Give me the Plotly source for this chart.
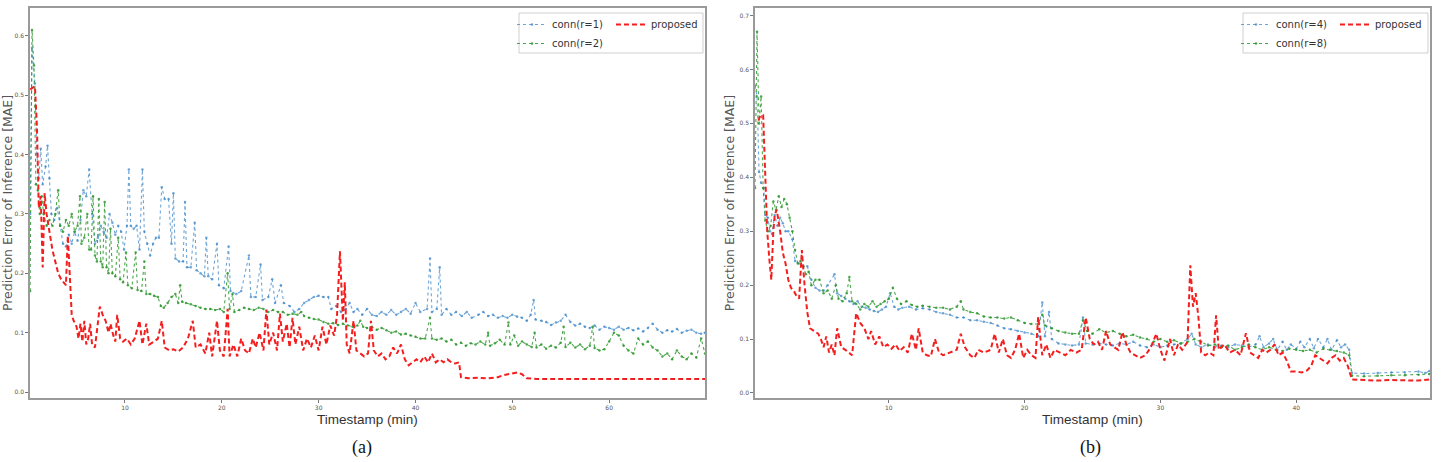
import plotly.graph_objects as go

# ---------------- data: panel (a) ----------------
a_conn1_x = [0.2,0.4,0.7,0.9,1.1,1.3,1.5,1.8,2.0,2.2,2.4,2.7,3.0,3.3,3.6,3.9,4.2,4.5,4.8,5.1,5.4,5.7,6.0,6.3,6.6,6.9,7.2,7.5,7.8,8.1,8.4,8.7,9.0,9.3,9.6,9.9,10.2,10.4,10.6,10.9,11.2,11.5,11.8,12.0,12.3,12.6,12.9,13.2,13.5,13.8,14.1,14.5,14.8,15.0,15.2,15.6,16.0,16.2,16.4,16.8,17.2,17.4,17.8,18.2,18.4,18.6,19.0,19.5,19.7,20.2,20.7,20.9,21.5,22.0,22.8,23.0,23.5,24.0,24.2,24.8,25.2,25.5,26.1,26.4,27.0,27.5,28.0,28.5,29.0,29.5,30.0,30.5,31.0,31.3,31.8,32.3,32.8,33.2,33.6,34.0,34.5,35.0,35.5,36.0,36.5,37.0,37.5,38.0,38.5,39.0,39.5,40.0,40.5,41.2,41.5,41.7,42.2,42.5,42.7,43.2,43.7,44.2,44.8,45.3,45.8,46.5,47.0,47.5,48.0,48.5,49.0,49.5,50.0,50.5,51.0,51.5,51.9,52.2,52.4,53.0,53.5,54.0,54.5,55.0,55.5,56.0,56.5,57.0,57.5,58.0,58.5,59.0,59.5,60.0,60.5,61.0,61.5,62.0,62.5,63.0,63.5,64.0,64.5,65.0,65.5,66.0,66.5,67.0,67.5,68.0,68.5,69.0,69.5,69.9]
a_conn1_y = [0.30,0.58,0.52,0.40,0.36,0.41,0.35,0.38,0.415,0.36,0.30,0.29,0.31,0.28,0.25,0.245,0.265,0.25,0.27,0.255,0.29,0.34,0.33,0.375,0.30,0.25,0.26,0.28,0.27,0.26,0.30,0.285,0.265,0.28,0.27,0.24,0.28,0.375,0.28,0.275,0.28,0.24,0.375,0.27,0.25,0.23,0.25,0.26,0.26,0.345,0.325,0.325,0.25,0.335,0.225,0.22,0.22,0.32,0.21,0.21,0.285,0.205,0.20,0.195,0.26,0.195,0.19,0.25,0.18,0.175,0.245,0.17,0.165,0.17,0.23,0.16,0.16,0.215,0.155,0.16,0.19,0.15,0.18,0.15,0.145,0.135,0.14,0.15,0.155,0.16,0.162,0.16,0.16,0.14,0.145,0.135,0.14,0.15,0.135,0.14,0.13,0.14,0.13,0.128,0.135,0.13,0.138,0.13,0.135,0.14,0.132,0.15,0.135,0.14,0.225,0.135,0.14,0.21,0.13,0.14,0.13,0.135,0.128,0.135,0.125,0.13,0.135,0.128,0.13,0.125,0.128,0.125,0.13,0.127,0.125,0.12,0.13,0.155,0.122,0.12,0.118,0.113,0.117,0.12,0.13,0.118,0.112,0.115,0.11,0.108,0.112,0.105,0.11,0.108,0.105,0.11,0.105,0.108,0.104,0.107,0.102,0.108,0.115,0.105,0.10,0.104,0.102,0.106,0.10,0.103,0.105,0.10,0.098,0.10]

a_conn2_x = [0.2,0.4,0.6,0.8,1.0,1.2,1.4,1.6,1.9,2.2,2.5,2.8,3.1,3.3,3.6,3.9,4.2,4.5,4.8,5.1,5.35,5.5,5.8,6.1,6.3,6.5,6.7,6.9,7.1,7.3,7.5,7.7,7.9,8.1,8.3,8.5,8.7,9.0,9.3,9.5,9.8,10.1,10.3,10.7,11.1,11.3,11.7,12.0,12.2,12.6,13.0,13.4,13.7,14.0,14.4,14.8,15.2,15.5,15.7,15.9,16.3,16.8,17.3,17.8,18.3,18.8,19.3,19.8,20.2,20.6,20.8,21.1,21.3,21.8,22.3,22.8,23.3,23.8,24.3,24.8,25.3,25.8,26.3,26.8,27.3,27.8,28.2,28.5,29.0,29.5,30.0,30.5,31.0,31.5,32.0,32.5,33.0,33.5,34.0,34.3,34.6,35.0,35.5,36.0,36.5,37.0,37.5,38.0,38.5,39.0,39.5,40.0,40.5,41.0,41.5,41.7,42.2,42.7,43.2,43.7,44.2,44.7,45.2,45.7,46.2,46.7,47.2,47.5,47.7,48.2,48.7,49.2,49.6,49.8,50.2,50.6,51.0,51.5,52.0,52.3,52.5,53.0,53.5,54.0,54.5,55.0,55.3,55.5,56.0,56.5,57.0,57.5,58.0,58.3,58.5,59.0,59.5,60.0,60.5,61.0,61.5,62.0,62.5,63.0,63.5,64.0,64.5,65.0,65.5,66.0,66.5,67.0,67.5,68.0,68.5,69.0,69.5,69.9]
a_conn2_y = [0.17,0.61,0.55,0.35,0.34,0.30,0.33,0.30,0.28,0.29,0.28,0.30,0.34,0.28,0.27,0.29,0.28,0.30,0.27,0.28,0.33,0.25,0.26,0.30,0.24,0.24,0.33,0.23,0.22,0.325,0.22,0.21,0.32,0.21,0.20,0.275,0.20,0.195,0.26,0.19,0.185,0.235,0.18,0.175,0.235,0.172,0.17,0.22,0.165,0.165,0.162,0.16,0.145,0.142,0.15,0.16,0.165,0.15,0.18,0.152,0.15,0.148,0.145,0.142,0.14,0.14,0.138,0.14,0.135,0.20,0.14,0.165,0.135,0.138,0.142,0.14,0.138,0.142,0.14,0.135,0.138,0.135,0.135,0.13,0.132,0.13,0.135,0.128,0.125,0.123,0.122,0.118,0.115,0.116,0.113,0.115,0.112,0.11,0.112,0.12,0.11,0.108,0.11,0.105,0.108,0.104,0.10,0.102,0.097,0.098,0.095,0.093,0.09,0.09,0.125,0.09,0.088,0.09,0.085,0.088,0.08,0.083,0.078,0.082,0.08,0.085,0.08,0.10,0.078,0.082,0.088,0.08,0.117,0.08,0.095,0.078,0.085,0.08,0.076,0.10,0.075,0.08,0.073,0.078,0.075,0.083,0.11,0.076,0.083,0.075,0.08,0.072,0.078,0.11,0.074,0.07,0.072,0.085,0.10,0.095,0.078,0.07,0.065,0.09,0.08,0.085,0.075,0.07,0.06,0.065,0.055,0.07,0.06,0.055,0.065,0.058,0.09,0.065]

a_prop_x = [0.2,0.7,0.9,1.1,1.3,1.5,1.7,1.9,2.2,2.5,2.8,3.1,3.4,3.7,3.9,4.1,4.3,4.5,4.7,5.0,5.2,5.4,5.6,5.8,6.0,6.2,6.4,6.6,6.9,7.1,7.4,7.7,8.0,8.3,8.5,8.8,9.0,9.2,9.5,9.8,10.2,10.6,11.0,11.5,11.8,12.2,12.5,13.0,13.4,13.8,14.1,14.6,15.0,15.5,16.0,16.5,17.0,17.3,17.8,18.3,18.7,19.0,19.5,19.8,20.2,20.6,20.8,21.2,21.6,22.0,22.4,22.8,23.2,23.5,23.9,24.3,24.6,24.9,25.3,25.7,26.0,26.3,26.7,27.0,27.3,27.6,28.0,28.4,28.8,29.2,29.6,30.0,30.4,30.8,31.2,31.6,31.9,32.2,32.5,32.7,32.9,33.2,33.6,33.9,34.3,34.7,35.1,35.4,35.7,36.1,36.5,36.9,37.3,37.7,38.1,38.5,38.9,39.3,39.7,40.1,40.5,40.9,41.3,41.7,42.1,42.5,42.9,43.3,43.7,44.1,44.5,44.7,45.5,46.5,47.5,48.5,49.0,49.5,50.0,50.5,51.0,51.5,52.5,54.0,56.0,58.0,60.0,62.0,64.0,66.0,68.0,69.9]
a_prop_y = [0.51,0.515,0.45,0.31,0.33,0.21,0.335,0.30,0.27,0.24,0.22,0.20,0.19,0.185,0.18,0.263,0.20,0.13,0.12,0.11,0.09,0.115,0.085,0.12,0.08,0.09,0.115,0.08,0.075,0.10,0.144,0.13,0.12,0.10,0.115,0.095,0.085,0.13,0.09,0.085,0.09,0.08,0.09,0.12,0.08,0.115,0.08,0.085,0.09,0.12,0.075,0.07,0.072,0.068,0.075,0.09,0.12,0.075,0.08,0.065,0.10,0.06,0.12,0.07,0.06,0.14,0.06,0.08,0.06,0.09,0.07,0.065,0.09,0.075,0.10,0.07,0.139,0.08,0.10,0.07,0.132,0.085,0.115,0.075,0.125,0.08,0.11,0.07,0.09,0.075,0.095,0.07,0.11,0.08,0.112,0.095,0.13,0.237,0.12,0.185,0.08,0.065,0.12,0.07,0.065,0.06,0.065,0.12,0.07,0.06,0.065,0.055,0.06,0.075,0.065,0.08,0.055,0.045,0.05,0.055,0.05,0.06,0.05,0.065,0.05,0.055,0.05,0.055,0.05,0.048,0.05,0.025,0.023,0.024,0.023,0.025,0.028,0.03,0.031,0.033,0.03,0.023,0.022,0.022,0.022,0.023,0.022,0.022,0.022,0.022,0.022,0.022]

# ---------------- data: panel (b) ----------------
b_conn4_x = [0.15,0.3,0.45,0.6,0.8,0.9,1.1,1.25,1.4,1.6,1.8,2.0,2.2,2.4,2.6,2.9,3.1,3.4,3.7,4.0,4.3,4.6,4.9,5.2,5.5,6.0,6.2,6.5,6.8,7.1,7.4,7.7,8.0,8.3,8.6,8.9,9.2,9.5,9.8,10.1,10.4,10.7,11.0,11.5,12.0,12.5,13.0,13.5,14.0,14.5,15.0,15.5,16.0,16.5,17.0,17.5,18.0,18.5,19.0,19.5,20.0,20.5,21.0,21.3,21.5,21.8,22.0,22.5,23.0,23.5,24.0,24.3,24.5,25.0,25.5,26.0,26.5,27.0,27.5,28.0,28.5,29.0,29.5,30.0,30.5,31.0,31.5,32.0,32.3,32.6,33.0,33.5,34.0,34.5,35.0,35.5,36.0,36.5,37.0,37.3,37.6,38.0,38.3,38.6,39.0,39.3,39.6,40.0,40.3,40.6,41.0,41.3,41.6,42.0,42.3,42.6,43.0,43.3,43.6,43.9,44.1,45.0,46.0,47.0,48.0,49.0,49.5,49.8]
b_conn4_y = [0.57,0.55,0.41,0.39,0.38,0.33,0.325,0.30,0.295,0.33,0.31,0.325,0.315,0.30,0.30,0.285,0.245,0.24,0.235,0.235,0.21,0.195,0.19,0.19,0.20,0.22,0.185,0.18,0.175,0.17,0.165,0.17,0.16,0.158,0.155,0.152,0.15,0.155,0.16,0.185,0.16,0.155,0.158,0.16,0.155,0.157,0.155,0.15,0.148,0.145,0.14,0.14,0.135,0.135,0.132,0.13,0.125,0.12,0.118,0.115,0.112,0.11,0.105,0.168,0.105,0.15,0.10,0.092,0.09,0.088,0.09,0.14,0.092,0.09,0.092,0.09,0.088,0.092,0.09,0.095,0.088,0.085,0.09,0.085,0.088,0.09,0.092,0.10,0.11,0.09,0.085,0.09,0.085,0.088,0.085,0.09,0.088,0.085,0.09,0.105,0.085,0.092,0.10,0.08,0.095,0.08,0.09,0.082,0.095,0.085,0.10,0.083,0.10,0.085,0.10,0.08,0.098,0.085,0.09,0.08,0.037,0.036,0.037,0.038,0.038,0.04,0.037,0.041]

b_conn8_x = [0.15,0.3,0.45,0.6,0.75,0.9,1.1,1.3,1.5,1.7,1.9,2.1,2.3,2.5,2.7,2.9,3.1,3.3,3.5,3.7,3.9,4.1,4.3,4.6,4.9,5.2,5.5,5.8,6.1,6.3,6.6,6.9,7.1,7.3,7.6,7.9,8.2,8.5,8.8,9.1,9.4,9.7,10.0,10.3,10.6,10.9,11.3,11.7,12.1,12.5,13.0,13.5,14.0,14.5,15.0,15.3,15.5,16.0,16.5,17.0,17.5,18.0,18.5,19.0,19.5,20.0,20.5,21.0,21.3,21.5,22.0,22.5,23.0,23.5,24.0,24.3,24.6,25.0,25.5,26.0,26.5,27.0,27.5,28.0,28.5,29.0,29.5,30.0,30.5,31.0,31.5,32.0,32.5,33.0,33.5,34.0,34.5,35.0,35.5,36.0,36.5,37.0,37.5,38.0,38.5,39.0,39.5,40.0,40.5,41.0,41.5,42.0,42.5,43.0,43.5,43.9,44.1,45.0,46.0,47.0,48.0,49.0,49.8]
b_conn8_y = [0.38,0.67,0.50,0.55,0.38,0.32,0.30,0.31,0.355,0.34,0.365,0.345,0.36,0.35,0.325,0.30,0.265,0.24,0.245,0.235,0.22,0.225,0.20,0.21,0.21,0.185,0.19,0.175,0.20,0.175,0.17,0.185,0.215,0.17,0.165,0.155,0.165,0.16,0.17,0.16,0.165,0.17,0.175,0.195,0.175,0.165,0.17,0.163,0.16,0.162,0.16,0.158,0.158,0.155,0.16,0.17,0.155,0.15,0.148,0.142,0.14,0.14,0.138,0.14,0.135,0.13,0.128,0.128,0.145,0.125,0.12,0.115,0.112,0.11,0.11,0.135,0.115,0.11,0.118,0.112,0.115,0.11,0.105,0.108,0.103,0.10,0.095,0.10,0.095,0.098,0.092,0.095,0.10,0.095,0.088,0.09,0.085,0.088,0.08,0.085,0.09,0.085,0.08,0.085,0.08,0.078,0.082,0.08,0.078,0.08,0.075,0.082,0.08,0.078,0.075,0.07,0.032,0.031,0.032,0.033,0.033,0.034,0.035]

b_prop_x = [0.4,0.55,0.75,0.9,1.05,1.2,1.35,1.5,1.6,1.75,1.9,2.0,2.2,2.4,2.6,2.8,3.0,3.2,3.4,3.6,3.8,4.0,4.2,4.5,4.8,5.0,5.2,5.4,5.6,5.8,6.0,6.2,6.5,6.8,7.1,7.3,7.6,7.9,8.2,8.5,8.7,9.0,9.3,9.6,9.9,10.2,10.5,10.8,11.1,11.4,11.7,12.0,12.2,12.5,12.8,13.1,13.4,13.7,14.0,14.5,15.0,15.3,15.6,16.0,16.3,16.6,17.0,17.5,17.8,18.1,18.4,18.7,19.0,19.3,19.6,19.9,20.2,20.5,20.8,21.0,21.3,21.6,21.9,22.2,22.6,23.0,23.4,23.8,24.2,24.5,24.8,25.1,25.4,25.7,26.0,26.3,26.6,26.9,27.2,27.5,27.8,28.1,28.5,28.9,29.3,29.7,30.0,30.3,30.7,31.0,31.3,31.6,32.0,32.2,32.4,32.6,32.8,33.0,33.3,33.6,33.9,34.1,34.3,34.7,35.1,35.5,35.9,36.3,36.6,36.9,37.2,37.5,37.8,38.1,38.4,38.7,39.0,39.3,39.6,40.0,40.4,40.8,41.1,41.4,41.7,42.0,42.3,42.6,42.9,43.2,43.5,43.8,44.1,45.0,46.0,47.0,48.0,49.0,49.8]
b_prop_y = [0.505,0.515,0.515,0.42,0.30,0.25,0.21,0.30,0.33,0.34,0.32,0.30,0.26,0.24,0.21,0.195,0.19,0.18,0.175,0.265,0.20,0.15,0.12,0.115,0.11,0.10,0.085,0.105,0.075,0.09,0.07,0.12,0.085,0.08,0.075,0.07,0.148,0.13,0.12,0.10,0.115,0.09,0.105,0.085,0.09,0.082,0.09,0.078,0.085,0.075,0.11,0.08,0.12,0.075,0.07,0.068,0.10,0.075,0.07,0.075,0.08,0.11,0.085,0.07,0.065,0.08,0.075,0.08,0.11,0.075,0.10,0.07,0.065,0.08,0.11,0.065,0.08,0.07,0.065,0.141,0.07,0.09,0.065,0.08,0.075,0.07,0.08,0.075,0.08,0.14,0.10,0.09,0.095,0.08,0.115,0.09,0.085,0.08,0.113,0.09,0.075,0.07,0.065,0.07,0.085,0.11,0.08,0.06,0.10,0.07,0.09,0.08,0.095,0.237,0.16,0.185,0.14,0.075,0.07,0.075,0.07,0.144,0.08,0.09,0.075,0.08,0.07,0.111,0.075,0.07,0.065,0.08,0.075,0.08,0.09,0.07,0.075,0.06,0.04,0.04,0.038,0.042,0.05,0.07,0.065,0.06,0.055,0.065,0.07,0.06,0.065,0.05,0.025,0.024,0.023,0.024,0.024,0.023,0.025]

x_ticks_a = [10, 20, 30, 40, 50, 60]
x_ticks_b = [10, 20, 30, 40]
y_ticks_a = [0.0, 0.1, 0.2, 0.3, 0.4, 0.5, 0.6]
y_ticks_b = [0.0, 0.1, 0.2, 0.3, 0.4, 0.5, 0.6, 0.7]

# ---------------- styles ----------------
BLUE = "rgba(60,135,200,0.75)"
GREEN = "rgba(45,150,45,0.85)"
RED = "rgb(245,30,30)"
W, H = 1443, 462
def px(v): return v / W
def py(v): return 1 - v / H

fig = go.Figure()

def conn(x, y, name, color, xa, ya, leg):
    return go.Scatter(x=x, y=y, name=name, mode="lines+markers", xaxis=xa, yaxis=ya,
                      legend=leg, line=dict(color=color, width=1.1, dash="dot"),
                      marker=dict(color=color, size=2.5))

def prop(x, y, xa, ya, leg):
    return go.Scatter(x=x, y=y, name="proposed", mode="lines", xaxis=xa, yaxis=ya,
                      legend=leg, line=dict(color=RED, width=2, dash="5px,3px"))

fig.add_trace(conn(a_conn1_x, a_conn1_y, "conn(r=1)", BLUE, "x", "y", "legend"))
fig.add_trace(conn(a_conn2_x, a_conn2_y, "conn(r=2)", GREEN, "x", "y", "legend"))
fig.add_trace(prop(a_prop_x, a_prop_y, "x", "y", "legend2"))
fig.add_trace(conn(b_conn4_x, b_conn4_y, "conn(r=4)", BLUE, "x2", "y2", "legend3"))
fig.add_trace(conn(b_conn8_x, b_conn8_y, "conn(r=8)", GREEN, "x2", "y2", "legend3"))
fig.add_trace(prop(b_prop_x, b_prop_y, "x2", "y2", "legend4"))

ax_common = dict(showline=True, mirror=True, linecolor="#9a9a9a", linewidth=1.5,
                 showgrid=False, zeroline=False, ticks="outside", ticklen=3,
                 tickcolor="#777", tickfont=dict(size=6, color="#555", family="DejaVu Sans"),
                 automargin=False)

yd = [py(398), py(8)]
xt_font = dict(size=13.5, color="#333", family="Liberation Sans")
yt_font = dict(size=12.5, color="#555", family="DejaVu Sans")
fig.update_layout(
    width=W, height=H, margin=dict(l=0, r=0, t=0, b=0),
    paper_bgcolor="white", plot_bgcolor="white", showlegend=True,
    xaxis=dict(domain=[px(30), px(705)], range=[0.19, 69.9], tickvals=x_ticks_a,
               title=dict(text="Timestamp (min)", font=xt_font, standoff=5),
               anchor="y", **ax_common),
    yaxis=dict(domain=yd, range=[-0.0101, 0.647], tickvals=y_ticks_a, tickformat=".1f",
               title=dict(text="Prediction Error of Inference [MAE]", font=yt_font, standoff=2),
               anchor="x", **ax_common),
    xaxis2=dict(domain=[px(755), px(1430)], range=[0.15, 49.85], tickvals=x_ticks_b,
                title=dict(text="Timestamp (min)", font=xt_font, standoff=5),
                anchor="y2", **ax_common),
    yaxis2=dict(domain=yd, range=[-0.0093, 0.714], tickvals=y_ticks_b, tickformat=".1f",
                title=dict(text="Prediction Error of Inference [MAE]", font=yt_font, standoff=2),
                anchor="x2", **ax_common),
)

leg_common = dict(bgcolor="rgba(0,0,0,0)", borderwidth=0, font=dict(size=10, color="#333", family="DejaVu Sans"),
                  xanchor="left", yanchor="top", tracegroupgap=0, itemwidth=30)
fig.update_layout(
    legend=dict(x=px(512), y=py(10), **leg_common),
    legend2=dict(x=px(611), y=py(10), **leg_common),
    legend3=dict(x=px(1236), y=py(10), **leg_common),
    legend4=dict(x=px(1335), y=py(10), **leg_common),
)

# legend frames
for x0, x1 in [(519, 703), (1243, 1428)]:
    fig.add_shape(type="rect", xref="paper", yref="paper", x0=px(x0), x1=px(x1), y0=py(53), y1=py(13),
                  line=dict(color="#cfcfcf", width=1), fillcolor="white", layer="below")

# captions
for label, cx in [("(a)", 362), ("(b)", 1090)]:
    fig.add_annotation(text=label, x=px(cx), y=py(447), xref="paper", yref="paper", showarrow=False,
                       xanchor="center", yanchor="middle",
                       font=dict(size=18, family="Liberation Serif", color="#111"))

fig.write_html("out.html")
